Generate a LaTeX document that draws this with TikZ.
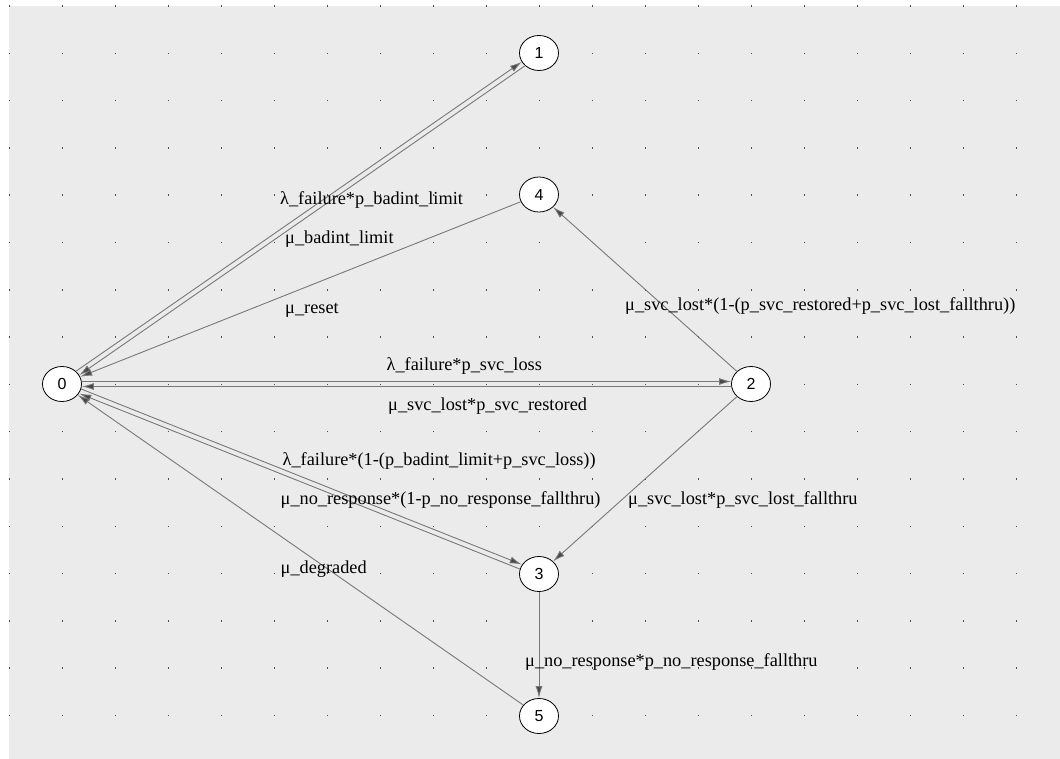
\documentclass[tikz,border=0pt]{standalone}
\usepackage{fontspec}
\setmainfont{Liberation Serif}
\newfontfamily\statefont{Liberation Sans}
\usetikzlibrary{shapes.geometric,arrows.meta}
\definecolor{panelgray}{RGB}{235,235,235}
\definecolor{linegray}{RGB}{120,120,120}
\definecolor{tipgray}{RGB}{70,70,70}
\tikzset{
  stnode/.style={ellipse,draw=black,fill=white,line width=.8pt,minimum width=39pt,minimum height=35pt,inner sep=0pt,font=\statefont\fontsize{16}{18}\selectfont},
  trans/.style={draw=linegray,line width=.9pt,-{Latex[length=12pt,width=7pt,fill=tipgray]}},
  rate/.style={anchor=west,inner sep=0pt,font=\fontsize{18.3}{20}\selectfont}
}

\begin{document}
\begin{tikzpicture}[x=1pt,y=-1pt]
  \useasboundingbox (0,0) rectangle (1060,759);
  \fill[white] (0,0) rectangle (1060,759);
  \fill[panelgray] (9,6) rectangle (1060,759);
  % grid dots
  \foreach \i in {0,...,19}{
    \foreach \j in {0,...,15}{
      \fill[black!70] ({9.5+53*\i-.75},{6+47.3*\j-.75}) rectangle +(1.5,1.5);
    }
  }
  % states
  \node[stnode] (n0) at (62,384) {0};
  \node[stnode] (n1) at (539,53) {1};
  \node[stnode] (n4) at (539,194.5) {4};
  \node[stnode] (n2) at (751,384) {2};
  \node[stnode] (n3) at (539,574) {3};
  \node[stnode] (n5) at (539,716) {5};
  % transitions
  \draw[trans,transform canvas={xshift=-1.4pt,yshift=2.1pt}] (n0) -- (n1);
  \draw[trans,transform canvas={xshift=1.4pt,yshift=-2.1pt}] (n1) -- (n0);
  \draw[trans] (n4) -- (n0);
  \draw[trans] (n2) -- (n4);
  \draw[trans,transform canvas={yshift=2.5pt}] (n0) -- (n2);
  \draw[trans,transform canvas={yshift=-2.5pt}] (n2) -- (n0);
  \draw[trans,transform canvas={xshift=.9pt,yshift=2.3pt}] (n0) -- (n3);
  \draw[trans,transform canvas={xshift=-.9pt,yshift=-2.3pt}] (n3) -- (n0);
  \draw[trans] (n2) -- (n3);
  \draw[trans] (n3) -- (n5);
  \draw[trans] (n5) -- (n0);
  % rates
  \node[rate] (r01) at (280,200.5) {λ\_failure*p\_badint\_limit};
  \node[rate] (r10) at (285,239) {μ\_badint\_limit};
  \node[rate] (r40) at (285,310.5) {μ\_reset};
  \node[rate] (r24) at (625,306.5) {μ\_svc\_lost*(1-(p\_svc\_restored+p\_svc\_lost\_fallthru))};
  \node[rate] (r02) at (386.5,366) {λ\_failure*p\_svc\_loss};
  \node[rate] (r20) at (388,406.5) {μ\_svc\_lost*p\_svc\_restored};
  \node[rate] (r03) at (282.5,461.5) {λ\_failure*(1-(p\_badint\_limit+p\_svc\_loss))};
  \node[rate] (r30) at (280.5,500.5) {μ\_no\_response*(1-p\_no\_response\_fallthru)};
  \node[rate] (r23) at (628,500) {μ\_svc\_lost*p\_svc\_lost\_fallthru};
  \node[rate] (r50) at (280.5,569) {μ\_degraded};
  \node[rate] (r35) at (525,662.5) {μ\_no\_response*p\_no\_response\_fallthru};
\end{tikzpicture}
\end{document}
